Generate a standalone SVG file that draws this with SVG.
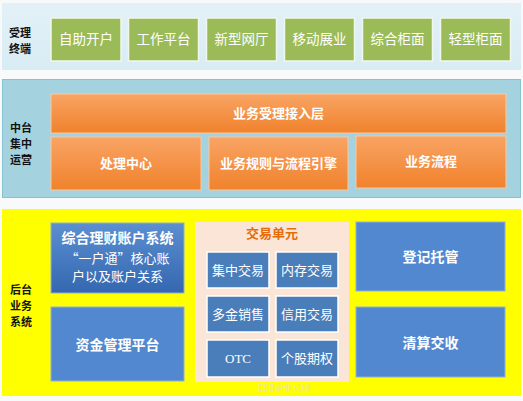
<svg xmlns="http://www.w3.org/2000/svg" width="523" height="401" viewBox="0 0 523 401">
<defs>
<linearGradient id="og" x1="0" y1="0" x2="0" y2="1"><stop offset="0" stop-color="#f9a464"/><stop offset="1" stop-color="#f0822c"/></linearGradient>
<linearGradient id="bg1" x1="0" y1="0" x2="0" y2="1"><stop offset="0" stop-color="#5b8fd0"/><stop offset="1" stop-color="#3467b0"/></linearGradient>
<linearGradient id="topg" x1="0" y1="0" x2="0" y2="1"><stop offset="0" stop-color="#e3f1f7"/><stop offset="1" stop-color="#d8ecf4"/></linearGradient>
<style>
.lbl{font-family:"Noto Sans CJK SC","Noto Sans",sans-serif;font-weight:bold;font-size:11px;fill:#111}
.g{fill:#9bbb59;stroke:#f2f6ea;stroke-width:1.5}
.gt{font-family:"Noto Sans CJK SC",sans-serif;font-size:13.5px;fill:#fff;text-anchor:middle}
.o{fill:url(#og);stroke:#fbc79f;stroke-width:1}
.ot{font-family:"Noto Sans CJK SC",sans-serif;font-weight:bold;font-size:13px;fill:#fff;text-anchor:middle}
.b{fill:#5288d0;stroke:#8fb0d8;stroke-width:1}
.bt{font-family:"Noto Sans CJK SC",sans-serif;font-weight:bold;font-size:14px;fill:#fff;text-anchor:middle}
.s{fill:#4a7ebb;stroke:#ffffff;stroke-width:1.5}
.st{font-family:"Noto Sans CJK SC",sans-serif;font-size:13px;fill:#fff;text-anchor:middle}
</style>
</defs>
<rect width="523" height="401" fill="#f7f9fa"/>
<g id="band-top">
<rect x="2" y="3" width="519" height="67" fill="url(#topg)"/>
<text class="lbl" x="9" y="37">受理</text>
<text class="lbl" x="9" y="53">终端</text>
</g>
<g id="band-mid">
<rect x="2.5" y="79.5" width="518" height="118" fill="#a5d2df" stroke="#86c2d2" stroke-width="1"/>
<text class="lbl" x="10" y="132">中台</text>
<text class="lbl" x="10" y="148">集中</text>
<text class="lbl" x="10" y="164">运营</text>
</g>
<g id="band-bot">
<rect x="2" y="209" width="519" height="187" fill="#ffff00"/>
<text class="lbl" x="10" y="294">后台</text>
<text class="lbl" x="10" y="310">业务</text>
<text class="lbl" x="10" y="326">系统</text>
</g>
<g id="n-zizhu"><rect class="g" x="51" y="18" width="70" height="43"/><text class="gt" x="86" y="44">自助开户</text></g>
<g id="n-gongzuo"><rect class="g" x="128.5" y="18" width="70" height="43"/><text class="gt" x="163.5" y="44">工作平台</text></g>
<g id="n-xinxing"><rect class="g" x="206.5" y="18" width="70" height="43"/><text class="gt" x="241.5" y="44">新型网厅</text></g>
<g id="n-yidong"><rect class="g" x="284.5" y="18" width="70" height="43"/><text class="gt" x="319.5" y="44">移动展业</text></g>
<g id="n-zonghe"><rect class="g" x="362.5" y="18" width="70" height="43"/><text class="gt" x="397.5" y="44">综合柜面</text></g>
<g id="n-qingxing"><rect class="g" x="440.5" y="18" width="70" height="43"/><text class="gt" x="475.5" y="44">轻型柜面</text></g>
<g id="n-jieru"><rect class="o" x="51" y="94" width="455" height="39"/><text class="ot" x="278.5" y="118">业务受理接入层</text></g>
<g id="n-chuli"><rect class="o" x="51" y="137" width="150" height="53"/><text class="ot" x="126" y="168">处理中心</text></g>
<g id="n-guize"><rect class="o" x="209" y="137" width="139" height="53"/><text class="ot" x="278.5" y="168">业务规则与流程引擎</text></g>
<g id="n-liucheng"><rect class="o" x="356" y="136" width="150" height="52"/><text class="ot" x="431" y="166">业务流程</text></g>
<g id="n-zhanghu"><rect x="51" y="223" width="133" height="70" fill="url(#bg1)" stroke="#8fb0d8" stroke-width="1"/>
<text class="bt" x="117.5" y="243" font-size="14.5">综合理财账户系统</text>
<text class="st" x="117.5" y="263" font-size="12.5">“一户通”核心账</text>
<text class="st" x="117.5" y="281" font-size="12.5">户以及账户关系</text></g>
<g id="n-zijin"><rect class="b" x="51" y="307" width="133" height="74"/><text class="bt" x="117.5" y="350">资金管理平台</text></g>
<g id="n-jiaoyi"><rect x="195" y="222" width="154" height="160" fill="#fbe5d6"/>
<text x="272" y="238" font-family="Noto Sans CJK SC,sans-serif" font-weight="bold" font-size="13" fill="#e46c0a" text-anchor="middle">交易单元</text></g>
<g id="n-jizhong"><rect class="s" x="207" y="252" width="62" height="36"/><text class="st" x="238" y="275">集中交易</text></g>
<g id="n-neicun"><rect class="s" x="276" y="252" width="62" height="36"/><text class="st" x="307" y="275">内存交易</text></g>
<g id="n-duojin"><rect class="s" x="207" y="296" width="62" height="36"/><text class="st" x="238" y="319">多金销售</text></g>
<g id="n-xinyong"><rect class="s" x="276" y="296" width="62" height="36"/><text class="st" x="307" y="319">信用交易</text></g>
<g id="n-otc"><rect class="s" x="207" y="340" width="62" height="37"/><text x="238" y="363" font-family="Liberation Serif,serif" font-size="13" fill="#fff" text-anchor="middle">OTC</text></g>
<g id="n-gegu"><rect class="s" x="276" y="340" width="62" height="37"/><text class="st" x="307" y="363">个股期权</text></g>
<g id="n-dengji"><rect class="b" x="356" y="222" width="149" height="69"/><text class="bt" x="430.5" y="262">登记托管</text></g>
<g id="n-qingsuan"><rect class="b" x="356" y="307" width="149" height="70"/><text class="bt" x="430.5" y="348">清算交收</text></g>
<g id="connectors"></g>
<text x="258" y="391" font-family="Noto Sans CJK SC,sans-serif" font-size="9" fill="#e8e4c0" opacity="0.8">ESB企业总线</text>
</svg>
